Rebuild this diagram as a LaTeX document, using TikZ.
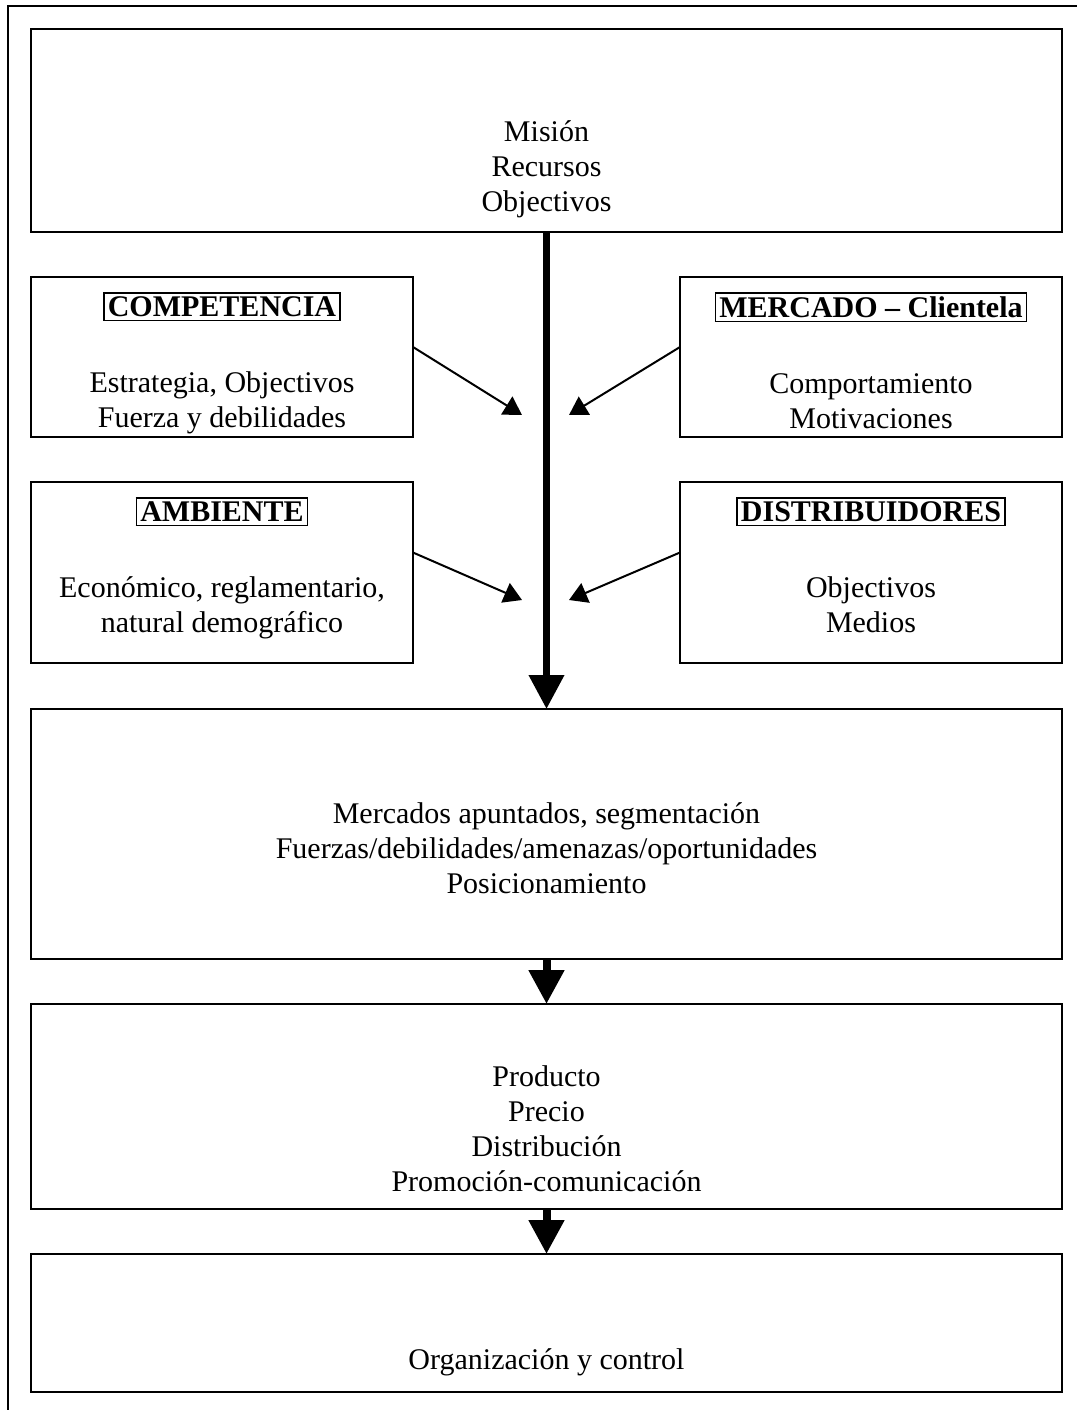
\documentclass[tikz,border=0pt]{standalone}
\usepackage{fontspec}
\setmainfont{Liberation Serif}
\usetikzlibrary{positioning,arrows.meta}
\setlength{\fboxsep}{1.5pt}
\setlength{\fboxrule}{0.8pt}

\begin{document}
\begin{tikzpicture}[x=0.5pt,y=-0.5pt,
  every node/.style={font=\fontsize{15pt}{17.5pt}\selectfont,outer sep=0pt},
  box/.style={draw,line width=1.2pt,inner sep=0pt},
  wide box/.style={box,minimum width=515.5pt},
  side box/.style={box,minimum width=191pt},
  txt/.style={align=center,inner sep=0pt},
  head/.style={line width=3.5pt,-{Triangle[width=17pt,length=17pt]}},
  small head/.style={line width=1pt,-{Triangle[width=10.5pt,length=9pt]}}]

  \useasboundingbox (0,0) rectangle (1077,1410);
  \draw[line width=1pt] (8,1410) -- (8,6) -- (1077,6);

  % the boxes
  \node[wide box,minimum height=101.5pt] (empresa) at (546.5,130.5) {};
  \node[side box,minimum height=80pt,below=22.5pt of empresa.south west,anchor=north west] (comp) {};
  \node[side box,minimum height=80pt,below=22.5pt of empresa.south east,anchor=north east] (merc) {};
  \node[side box,minimum height=90.5pt,below=22.5pt of comp] (amb) {};
  \node[side box,minimum height=90.5pt,below=22.5pt of merc] (dist) {};
  \node[wide box,minimum height=125pt,below=23pt of amb.south west,anchor=north west] (estr) {};
  \node[wide box,minimum height=102.5pt,below=22.5pt of estr] (mix) {};
  \node[wide box,minimum height=69pt,below=22.5pt of mix] (plan) {};

  % their texts, hung from the top edge
  \node[txt,below=44pt of empresa.north] (empresa text)
    {\strut Misión\\ Recursos\\ Objectivos};
  \node[txt,below=7.5pt of comp.north] (comp text)
    {\fbox{\textbf{COMPETENCIA}}\\[20.5pt] Estrategia, Objectivos\\ Fuerza y debilidades};
  \node[txt,below=7.5pt of merc.north] (merc text)
    {\fbox{\textbf{MERCADO -- Clientela}}\\[20.5pt] Comportamiento\\ Motivaciones};
  \node[txt,below=7.5pt of amb.north] (amb text)
    {\fbox{\textbf{AMBIENTE}}\\[20.5pt] Económico, reglamentario,\\ natural demográfico};
  \node[txt,below=7.5pt of dist.north] (dist text)
    {\fbox{\textbf{DISTRIBUIDORES}}\\[20.5pt] Objectivos\\ Medios};
  \node[txt,below=45pt of estr.north] (estr text)
    {\strut Mercados apuntados, segmentación\\ Fuerzas/debilidades/amenazas/oportunidades\\ Posicionamiento};
  \node[txt,below=29pt of mix.north] (mix text)
    {\strut Producto\\ Precio\\ Distribución\\ Promoción-comunicación};
  \node[txt,below=45.5pt of plan.north] (plan text)
    {\strut Organización y control};

  % where the side arrows stop, next to the main line
  \coordinate (c1) at (522,415);
  \coordinate (c2) at (569,415);
  \coordinate (c3) at (522,600);
  \coordinate (c4) at (569,600);

  \draw[head] (empresa) -- (estr);
  \draw[head,line width=4pt] (estr) -- (mix);
  \draw[head,line width=4pt] (mix) -- (plan);

  \draw[small head] ([yshift=5pt]comp.east) -- (c1);
  \draw[small head] ([yshift=5pt]merc.west) -- (c2);
  \draw[small head] ([yshift=10pt]amb.east) -- (c3);
  \draw[small head] ([yshift=10pt]dist.west) -- (c4);
\end{tikzpicture}
\end{document}
